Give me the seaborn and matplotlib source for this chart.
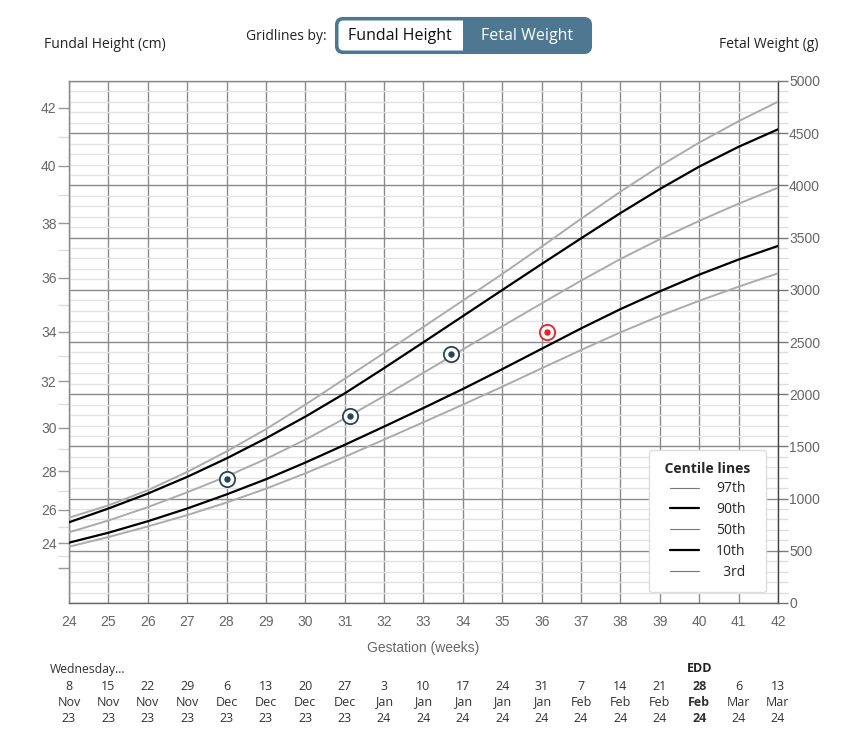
import numpy as np
import pandas as pd
import matplotlib
matplotlib.use("Agg")
import matplotlib.pyplot as plt
import seaborn as sns
from matplotlib.ticker import MultipleLocator, FixedLocator
from matplotlib.patches import FancyBboxPatch, Rectangle
from matplotlib.lines import Line2D

# centile curves, estimated fetal weight (g) by gestation week
weeks = list(range(24, 43))
c97 = [817, 935, 1080, 1255, 1452, 1665, 1900, 2148, 2395, 2645, 2897, 3152, 3413, 3680, 3940, 4185, 4410, 4615, 4802]
c90 = [773, 905, 1048, 1208, 1385, 1578, 1785, 2008, 2250, 2498, 2748, 2998, 3247, 3493, 3735, 3965, 4180, 4370, 4537]
c50 = [677, 790, 918, 1060, 1212, 1380, 1565, 1768, 1982, 2205, 2430, 2650, 2870, 3088, 3295, 3485, 3660, 3825, 3978]
c10 = [578, 673, 783, 905, 1040, 1185, 1345, 1515, 1690, 1868, 2050, 2240, 2435, 2630, 2815, 2985, 3145, 3290, 3420]
c03 = [539, 632, 733, 842, 962, 1095, 1242, 1400, 1565, 1732, 1900, 2072, 2248, 2423, 2592, 2750, 2895, 3030, 3158]

# left axis: fundal height (cm) and the weight (g) it lines up with
fh_cm = [22, 24, 26, 28, 30, 32, 34, 36, 38, 40, 42]
fh_g = [335, 572, 891, 1264, 1679, 2126, 2599, 3116, 3637, 4186, 4744]

# fundal height measurements
meas_week = [28.0, 31.14, 33.71, 36.14]
meas_cm = [27.6, 30.5, 33.1, 34.0]
meas_color = ["#2c4257", "#2c4257", "#2c4257", "#e8202a"]

# calendar under the weeks
date_day = ["8", "15", "22", "29", "6", "13", "20", "27", "3", "10", "17", "24", "31", "7", "14", "21", "28", "6", "13"]
date_mon = ["Nov", "Nov", "Nov", "Nov", "Dec", "Dec", "Dec", "Dec", "Jan", "Jan", "Jan", "Jan", "Jan",
            "Feb", "Feb", "Feb", "Feb", "Mar", "Mar"]
date_yr = ["23"] * 8 + ["24"] * 11
edd_week = 40


def cm_to_g(v):
    v = np.asarray(v, dtype=float)
    out = np.interp(v, fh_cm, fh_g)
    s_lo = (fh_g[1] - fh_g[0]) / (fh_cm[1] - fh_cm[0])
    s_hi = (fh_g[-1] - fh_g[-2]) / (fh_cm[-1] - fh_cm[-2])
    out = np.where(v < fh_cm[0], fh_g[0] + (v - fh_cm[0]) * s_lo, out)
    out = np.where(v > fh_cm[-1], fh_g[-1] + (v - fh_cm[-1]) * s_hi, out)
    return out


def g_to_cm(g):
    g = np.asarray(g, dtype=float)
    out = np.interp(g, fh_g, fh_cm)
    s_lo = (fh_cm[1] - fh_cm[0]) / (fh_g[1] - fh_g[0])
    s_hi = (fh_cm[-1] - fh_cm[-2]) / (fh_g[-1] - fh_g[-2])
    out = np.where(g < fh_g[0], fh_cm[0] + (g - fh_g[0]) * s_lo, out)
    out = np.where(g > fh_g[-1], fh_cm[-1] + (g - fh_g[-1]) * s_hi, out)
    return out


sns.set_style("white")
plt.rcParams["font.family"] = ["Liberation Sans", "DejaVu Sans"]
OPEN = ["Open Sans", "DejaVu Sans"]

W, H = 862, 736
fig = plt.figure(figsize=(W / 100, H / 100), dpi=100)
ax = fig.add_axes([69 / W, 1 - 603 / H, (778 - 69) / W, (603 - 81) / H])

curves = pd.DataFrame({"week": weeks, "97th": c97, "90th": c90, "50th": c50, "10th": c10, "3rd": c03})
styles = {"97th": ("#ababab", 1.4), "90th": ("black", 1.6), "50th": ("#ababab", 1.4),
          "10th": ("black", 1.6), "3rd": ("#ababab", 1.4)}
for name, (col, lw) in styles.items():
    sns.lineplot(data=curves, x="week", y=name, ax=ax, color=col, linewidth=lw, zorder=3)

meas = pd.DataFrame({"week": meas_week, "g": cm_to_g(meas_cm), "c": meas_color})
for _, r in meas.iterrows():
    ax.plot(r["week"], r["g"], marker="o", ms=11, mfc="white", mec=r["c"], mew=1.3, zorder=5)
    ax.plot(r["week"], r["g"], marker="o", ms=3.6, color=r["c"], zorder=6)

ax.set_xlim(24, 42)
ax.set_ylim(0, 5000)
ax.set_xlabel("Gestation (weeks)", color="#666666", fontsize=10, labelpad=8)
ax.set_ylabel("")
ax.xaxis.set_major_locator(MultipleLocator(1))
ax.yaxis.set_major_locator(MultipleLocator(500))
ax.yaxis.set_minor_locator(MultipleLocator(100))
ax.yaxis.tick_right()
ax.set_axisbelow(True)
ax.grid(which="major", color="#8a8a8a", linewidth=1)
ax.grid(which="minor", axis="y", color="#e2e2e2", linewidth=1)
ax.tick_params(axis="y", which="major", right=True, left=False, length=7, width=1, color="#777777",
               labelcolor="#666666", labelsize=10, pad=1)
ax.tick_params(axis="y", which="minor", right=True, left=False, length=7, width=1, color="#dddddd")
ax.tick_params(axis="x", length=4, color="#aaaaaa", labelcolor="#666666", labelsize=10, pad=5)
for side, col in [("left", "#8a8a8a"), ("top", "#8a8a8a"), ("bottom", "#666666"), ("right", "#444444")]:
    ax.spines[side].set_color(col)
    ax.spines[side].set_linewidth(1)

sec = ax.secondary_yaxis("left", functions=(g_to_cm, cm_to_g))
sec.yaxis.set_major_locator(FixedLocator(fh_cm))
sec.set_yticklabels(["" if v == 22 else str(v) for v in fh_cm])
sec.yaxis.set_minor_locator(FixedLocator(list(range(23, 42, 2))))
sec.tick_params(which="major", length=8, width=1, color="#999999", labelcolor="#666666", labelsize=10, pad=1)
sec.tick_params(which="minor", length=8, width=1, color="#dddddd")
sec.spines["left"].set_color("#8a8a8a")

# legend
handles = [Line2D([], [], color="#777777", lw=0.8), Line2D([], [], color="black", lw=1.6),
           Line2D([], [], color="#777777", lw=0.8), Line2D([], [], color="black", lw=1.6),
           Line2D([], [], color="#777777", lw=0.8)]
labels = ["97th", "90th", "50th", "10th", "  3rd"]
leg = ax.legend(handles, labels, title=" Centile lines ", loc="lower right", bbox_to_anchor=(0.983, 0.022),
                prop={"family": OPEN, "size": 10}, title_fontproperties={"family": OPEN, "size": 10, "weight": "bold"},
                handlelength=2.1, handletextpad=1.2, labelspacing=0.42, borderpad=0.85,
                frameon=True, fancybox=True, framealpha=1, edgecolor="#dddddd", borderaxespad=0)
leg.get_frame().set_linewidth(1)
leg.set_zorder(10)

# header texts
fig.text(44 / W, 1 - 44 / H, "Fundal Height (cm)", family=OPEN, fontsize=10, color="#222222", va="center", ha="left")
fig.text(819 / W, 1 - 44 / H, "Fetal Weight (g)", family=OPEN, fontsize=10, color="#222222", va="center", ha="right")
fig.text(327 / W, 1 - 37 / H, "Gridlines by:", family=OPEN, fontsize=10, color="#222222", va="center", ha="right")

# toggle button (figure inches, top-left pixel helper)
blue = "#4e7792"


def px(x, y):
    return (x / 100, (H - y) / 100)


tr = fig.dpi_scale_trans
fig.add_artist(FancyBboxPatch(px(336, 53), (591 - 336) / 100, (53 - 18) / 100,
                              boxstyle="round,pad=0,rounding_size=0.07", transform=tr,
                              facecolor=blue, edgecolor=blue, linewidth=1.5))
fig.add_artist(FancyBboxPatch(px(338.5, 50.5), (475 - 338.5) / 100, (50.5 - 20.5) / 100,
                              boxstyle="round,pad=0,rounding_size=0.05", transform=tr,
                              facecolor="white", edgecolor="none"))
fig.add_artist(Rectangle(px(463, 51), (485 - 463) / 100, (51 - 20) / 100, transform=tr,
                         facecolor=blue, edgecolor="none"))
fig.text(400 / W, 1 - 36 / H, "Fundal Height", family=OPEN, fontsize=11.5, color="#111111", va="center", ha="center")
fig.text(527 / W, 1 - 36 / H, "Fetal Weight", family=OPEN, fontsize=11.5, color="white", va="center", ha="center")

# calendar rows
fig.text(50 / W, 1 - 669 / H, "Wednesday...", family=OPEN, fontsize=8.8, color="#333333", va="center", ha="left")
for i, wk in enumerate(weeks):
    bold = "bold" if wk == edd_week else "normal"
    for txt, ypix in [(date_day[i], 686), (date_mon[i], 702), (date_yr[i], 718)]:
        ax.annotate(txt, xy=(wk, 1 - ypix / H), xycoords=("data", "figure fraction"), ha="center", va="center",
                    family=OPEN, fontsize=9, color="#333333", weight=bold, annotation_clip=False)
    if wk == edd_week:
        ax.annotate("EDD", xy=(wk, 1 - 669 / H), xycoords=("data", "figure fraction"), ha="center", va="center",
                    family=OPEN, fontsize=9, color="#222222", weight="bold", annotation_clip=False)

fig.savefig("out.png", dpi=100)
